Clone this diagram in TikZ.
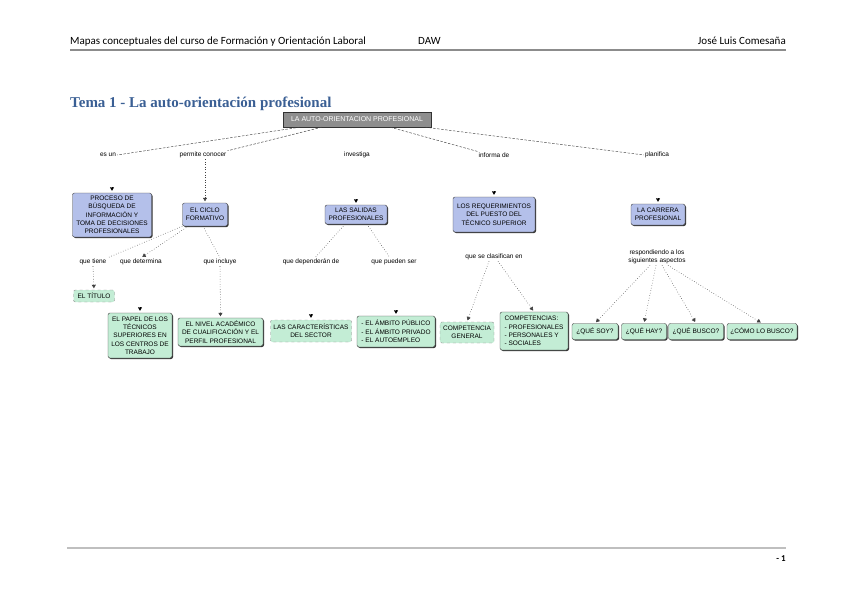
\documentclass[tikz,border=0pt]{standalone}
\usepackage{fontspec}
\setmainfont{Liberation Serif}
\newfontfamily\hdrfont{Carlito}
\newfontfamily\mapfont{Liberation Sans}
\usetikzlibrary{arrows.meta,shadows}
\definecolor{titleblue}{HTML}{3A5F94}
\definecolor{conceptblue}{HTML}{B4C0EA}
\definecolor{conceptgreen}{HTML}{C3EDD5}
\definecolor{rootgray}{HTML}{8E8E8E}

\begin{document}
\begin{tikzpicture}[x=1pt,y=-1pt,
  every node/.style={font=\mapfont\fontsize{6.5}{8.3}\selectfont, inner sep=1pt},
  hdr/.style={font=\hdrfont\fontsize{11}{13}\selectfont, inner sep=0pt},
  root/.style={draw=black!80, fill=rootgray, text=white, minimum width=148pt, minimum height=15pt,
    font=\mapfont\fontsize{7}{8}\selectfont},
  blue box/.style={draw=black!75, fill=conceptblue, rounded corners=2pt, align=center,
    drop shadow={shadow xshift=1pt, shadow yshift=-1pt, fill=black!80, opacity=1}},
  green box/.style={draw=black!75, fill=conceptgreen, rounded corners=2pt, align=center,
    drop shadow={shadow xshift=1pt, shadow yshift=-1pt, fill=black!80, opacity=1}},
  faint box/.style={draw=black!45, dashed, fill=conceptgreen, rounded corners=2pt, align=center},
  toroot/.style={dash pattern=on 2.5pt off 1.5pt, black!75, line width=0.45pt},
  plink/.style={dotted, black!75, line width=0.55pt},
  link/.style={plink, -{Triangle[length=3.5pt,width=4pt]}, shorten >=1.5pt},
  tip/.style={-{Triangle[length=3.5pt,width=4pt]}, shorten >=2pt}]

\useasboundingbox (0,0) rectangle (848,599);

\node[hdr, anchor=base west] (hdrl) at (70,45) {Mapas conceptuales del curso de Formación y Orientación Laboral};
\node[hdr, anchor=base west] (hdrm) at (418,45) {DAW};
\node[hdr, anchor=base east] (hdrr) at (786,45) {José Luis Comesaña};
\draw[line width=1.5pt, black!45] (70,50) -- (786,50);
\draw[line width=1.5pt, black!25] (67,548) -- (786,548);
\node[hdr, font=\hdrfont\bfseries\fontsize{9}{11}\selectfont, anchor=base east] (page) at (786,561) {- 1};

\node[anchor=base west, inner sep=0pt, text=titleblue, font=\bfseries\fontsize{15}{17}\selectfont] (title) at (70,108) {Tema 1 - La auto-orientación profesional};

\node[root] (root) at (357,119.5) {LA AUTO-ORIENTACION PROFESIONAL};

\node (esun) at (108,155) {es un};
\node (permite) at (203,155) {permite conocer};
\node (investiga) at (357,155) {investiga};
\node (informa) at (494,155) {informa de};
\node (planifica) at (657,155) {planifica};

\node[blue box, minimum width=79pt, minimum height=44pt] (proceso) at (112,215) {PROCESO DE\\BÚSQUEDA DE\\INFORMACIÓN Y\\TOMA DE DECISIONES\\PROFESIONALES};
\node[blue box, minimum width=45pt, minimum height=23pt] (ciclo) at (205,214.5) {EL CICLO\\FORMATIVO};
\node[blue box, minimum width=62pt, minimum height=19pt] (salidas) at (356,214.5) {LAS SALIDAS\\PROFESIONALES};
\node[blue box, minimum width=82pt, minimum height=35pt] (requer) at (494,214.5) {LOS REQUERIMIENTOS\\DEL PUESTO DEL\\TÉCNICO SUPERIOR};
\node[blue box, minimum width=54pt, minimum height=21pt] (carrera) at (658,214.5) {LA CARRERA\\PROFESIONAL};

\node (tiene) at (93,262) {que tiene};
\node (determina) at (141,262) {que determina};
\node (incluye) at (220,262) {que incluye};
\node (dependen) at (311,262) {que dependerán de};
\node (pueden) at (394,262) {que pueden ser};
\node (clasifican) at (494,257) {que se clasifican en};
\node[align=center] (aspectos) at (657,257) {respondiendo a los\\siguientes aspectos};

\node[faint box, minimum width=41pt, minimum height=12pt] (titulo) at (94,296) {EL TÍTULO};
\node[green box, minimum width=64pt, minimum height=45pt] (papel) at (140,335.5) {EL PAPEL DE LOS\\TÉCNICOS\\SUPERIORES EN\\LOS CENTROS DE\\TRABAJO};
\node[green box, minimum width=85pt, minimum height=28pt] (nivel) at (220.5,332) {EL NIVEL ACADÉMICO\\DE CUALIFICACIÓN Y EL\\PERFIL PROFESIONAL};
\node[faint box, minimum width=81pt, minimum height=22pt] (sector) at (311,331) {LAS CARACTERÍSTICAS\\DEL SECTOR};
\node[green box, align=left, minimum width=78pt, minimum height=31pt] (ambito) at (396,331.5) {- EL ÁMBITO PÚBLICO\\- EL ÁMBITO PRIVADO\\- EL AUTOEMPLEO};
\node[faint box, minimum width=54pt, minimum height=21pt] (general) at (467,332.5) {COMPETENCIA\\GENERAL};
\node[green box, align=left, minimum width=68pt, minimum height=38pt] (compet) at (534,331) {COMPETENCIAS:\\- PROFESIONALES\\- PERSONALES Y\\- SOCIALES};
\node[green box, minimum width=46pt, minimum height=16pt] (soy) at (595,331.5) {¿QUÉ SOY?};
\node[green box, minimum width=45pt, minimum height=16pt] (hay) at (644,331.5) {¿QUÉ HAY?};
\node[green box, minimum width=55pt, minimum height=16pt] (busco) at (696,331.5) {¿QUÉ BUSCO?};
\node[green box, minimum width=70pt, minimum height=16pt] (como) at (762,331.5) {¿CÓMO LO BUSCO?};

\draw[toroot] ([xshift=17pt]root.south west) -- (esun.east);
\draw[toroot] ([xshift=39pt]root.south west) -- (permite.north east);
\draw[toroot] ([xshift=-41pt]root.south east) -- (informa.north west);
\draw[toroot] ([xshift=-6pt]root.south east) -- (planifica.west);
\draw[link] (permite.south -| ciclo.north) -- (ciclo.north);

\draw[tip] ([yshift=5.5pt]proceso.north) -- (proceso.north);
\draw[tip] ([yshift=5.5pt]salidas.north) -- (salidas.north);
\draw[tip] ([yshift=5.5pt]requer.north) -- (requer.north);
\draw[tip] ([yshift=5.5pt]carrera.north) -- (carrera.north);
\draw[tip] ([yshift=5.5pt]papel.north) -- (papel.north);
\draw[tip] ([yshift=5.5pt]sector.north) -- (sector.north);
\draw[tip] ([yshift=5.5pt]ambito.north) -- (ambito.north);

\draw[plink] (ciclo.south west) -- (tiene.north east);
\draw[link] ([xshift=6pt]ciclo.south west) -- (determina.north);
\draw[plink] ([xshift=-2pt]ciclo.south) -- (incluye.north);
\draw[link] (tiene.south) -- (titulo.north);
\draw[link] (incluye.south) -- (nivel.north);

\draw[plink] ([xshift=-11pt]salidas.south) -- ([xshift=4pt]dependen.north);
\draw[plink] ([xshift=11pt]salidas.south) -- ([xshift=-4pt]pueden.north);

\draw[link] ([xshift=-5pt]clasifican.south) -- (general.north);
\draw[link] ([xshift=4pt]clasifican.south) -- (compet.north);

\draw[link] ([xshift=-7pt]aspectos.south) -- (soy.north);
\draw[link] ([xshift=-1pt]aspectos.south) -- (hay.north);
\draw[link] ([xshift=5pt]aspectos.south) -- (busco.north);
\draw[link] ([xshift=11pt]aspectos.south) -- (como.north);
\end{tikzpicture}
\end{document}
